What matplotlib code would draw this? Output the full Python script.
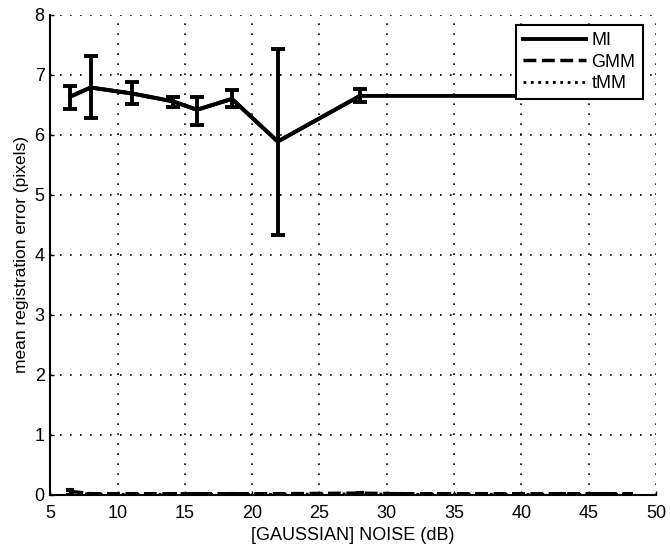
import matplotlib
matplotlib.use("Agg")
import matplotlib.pyplot as plt
from matplotlib.lines import Line2D

plt.rcParams['font.family'] = ['Liberation Sans', 'DejaVu Sans']

# MI series
mi_x = [6.5, 8.0, 11.1, 14.1, 15.9, 18.5, 21.9, 28.0, 48.0]
mi_y = [6.64, 6.79, 6.69, 6.56, 6.42, 6.60, 5.89, 6.65, 6.65]
mi_lo = [6.43, 6.29, 6.51, 6.46, 6.17, 6.46, 4.33, 6.55, 6.65]
mi_hi = [6.81, 7.31, 6.88, 6.64, 6.64, 6.75, 7.43, 6.77, 6.65]

# GMM / tMM series (near zero)
low_x = [6.5, 8.0, 11.1, 14.1, 15.9, 18.5, 21.9, 28.0, 31.0, 34.0, 37.0, 40.0, 43.0, 46.0, 48.0]
gmm_y = [0.06, 0.02, 0.02, 0.02, 0.02, 0.02, 0.02, 0.03, 0.02, 0.02, 0.02, 0.02, 0.02, 0.02, 0.02]
gmm_err = [0.04, 0.02, 0.02, 0.02, 0.02, 0.02, 0.02, 0.02, 0.02, 0.02, 0.02, 0.02, 0.02, 0.02, 0.02]
tmm_y = [0.04, 0.01, 0.01, 0.01, 0.01, 0.01, 0.01, 0.02, 0.01, 0.01, 0.01, 0.01, 0.01, 0.01, 0.01]
tmm_err = [0.03, 0.01, 0.01, 0.01, 0.01, 0.01, 0.01, 0.01, 0.01, 0.01, 0.01, 0.01, 0.01, 0.01, 0.01]

xticks = [5, 10, 15, 20, 25, 30, 35, 40, 45, 50]
yticks = [0, 1, 2, 3, 4, 5, 6, 7, 8]

fig = plt.figure(figsize=(6.7, 5.53), dpi=100)
ax = fig.add_axes([0.075, 0.105, 0.904, 0.868])

yerr_mi = [[y - l for y, l in zip(mi_y, mi_lo)], [h - y for y, h in zip(mi_y, mi_hi)]]
ax.errorbar(mi_x[:-1], mi_y[:-1], yerr=[yerr_mi[0][:-1], yerr_mi[1][:-1]],
            color='black', lw=2.8, capsize=5, capthick=2.8, elinewidth=2.8, zorder=3)
ax.plot(mi_x, mi_y, color='black', lw=2.8, zorder=3)
ax.errorbar(low_x, gmm_y, yerr=gmm_err, color='black', lw=2.5, ls='--',
            capsize=3, capthick=1.5, elinewidth=1.5, zorder=3)
ax.errorbar(low_x, tmm_y, yerr=tmm_err, color='black', lw=2.0, ls=':',
            capsize=3, capthick=1.5, elinewidth=1.5, zorder=3)

ax.set_xlim(5, 50)
ax.set_ylim(0, 8)
ax.set_xticks(xticks)
ax.set_yticks(yticks)
ax.tick_params(direction='in', labelsize=13, length=3, width=1)
ax.tick_params(axis='x', pad=7)
ax.tick_params(axis='y', pad=4)
ax.grid(True, color='black', ls=(0, (1, 5)), lw=1.2)
ax.spines['top'].set_visible(False)
ax.spines['right'].set_visible(False)
ax.spines['left'].set_linewidth(1.5)
ax.spines['bottom'].set_linewidth(1.5)

ax.set_xlabel('[GAUSSIAN] NOISE (dB)', fontsize=13, labelpad=4)
ax.set_ylabel('mean registration error (pixels)', fontsize=12.5, labelpad=4)

handles = [Line2D([], [], color='black', lw=2.8, ls='-'),
           Line2D([], [], color='black', lw=2.5, ls='--'),
           Line2D([], [], color='black', lw=2.0, ls=':')]
leg = ax.legend(handles, ['MI', 'GMM', 'tMM'], loc='upper right', fontsize=13,
                fancybox=False, framealpha=1, edgecolor='black',
                bbox_to_anchor=(0.978, 0.979), borderaxespad=0,
                handlelength=3.5, labelspacing=0.25,
                handletextpad=0.3, borderpad=0.4)
leg.get_frame().set_linewidth(1.5)
leg.set_zorder(5)

fig.savefig('out.png', dpi=100)
